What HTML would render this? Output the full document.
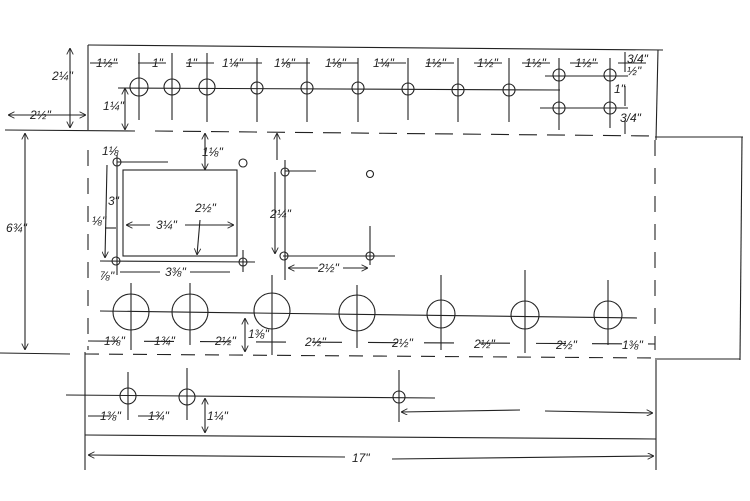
<!DOCTYPE html>
<html><head><style>
html,body{margin:0;padding:0;background:#fff;}
svg{display:block;}
text{font-family:"Liberation Sans",sans-serif;font-size:12px;fill:#222;font-style:italic;}
</style></head><body>
<svg width="750" height="501" viewBox="0 0 750 501" xmlns="http://www.w3.org/2000/svg">
<defs>
<marker id="a" viewBox="0 0 10 10" refX="10" refY="5" markerWidth="6" markerHeight="6" orient="auto-start-reverse"><path d="M0,0 L10,5 L0,10" fill="none" stroke="#222" stroke-width="1.3"/></marker>
</defs>
<g stroke="#222" stroke-width="1.1" fill="none">
<!-- top box -->
<line x1="88" y1="45" x2="663" y2="50"/>
<line x1="88" y1="45" x2="88" y2="130"/>
<line x1="658" y1="50" x2="656" y2="140"/>
<line x1="5" y1="130" x2="135" y2="131"/>
<line x1="155" y1="131" x2="655" y2="136" stroke-dasharray="18,10"/>
<!-- left outline -->
<line x1="0" y1="353" x2="70" y2="354"/>
<!-- right outline -->
<line x1="655" y1="137" x2="743" y2="137"/>
<line x1="742" y1="137" x2="740" y2="360"/>
<line x1="655" y1="359" x2="740" y2="359"/>
<!-- dashed verticals -->
<line x1="88" y1="150" x2="88" y2="350" stroke-dasharray="16,12"/>
<line x1="655" y1="140" x2="655" y2="350" stroke-dasharray="16,12"/>
<line x1="85" y1="354" x2="655" y2="358" stroke-dasharray="14,10"/>
<!-- 2 1/4 and 2 1/2 and 6 3/4 dims -->
<line x1="70" y1="48" x2="70" y2="128" marker-start="url(#a)" marker-end="url(#a)"/>
<line x1="8" y1="115" x2="86" y2="115" marker-start="url(#a)" marker-end="url(#a)"/>
<line x1="25" y1="133" x2="25" y2="350" marker-start="url(#a)" marker-end="url(#a)"/>
<!-- top row -->
<line x1="118" y1="88" x2="560" y2="90"/>
<circle cx="139" cy="87" r="9"/><circle cx="172" cy="87" r="8"/><circle cx="207" cy="87" r="8"/>
<circle cx="257" cy="88" r="6"/><circle cx="307" cy="88" r="6"/><circle cx="358" cy="88" r="6"/>
<circle cx="408" cy="89" r="6"/><circle cx="458" cy="90" r="6"/><circle cx="509" cy="90" r="6"/>
<circle cx="559" cy="75" r="6"/><circle cx="610" cy="75" r="6"/>
<circle cx="559" cy="108" r="6"/><circle cx="610" cy="108" r="6"/>
<line x1="545" y1="76" x2="628" y2="76"/><line x1="540" y1="108" x2="628" y2="108"/>
<line x1="139" y1="53" x2="139" y2="120"/><line x1="172" y1="53" x2="172" y2="120"/><line x1="207" y1="53" x2="207" y2="122"/>
<line x1="257" y1="58" x2="257" y2="122"/><line x1="307" y1="58" x2="307" y2="122"/><line x1="358" y1="58" x2="358" y2="122"/>
<line x1="408" y1="58" x2="408" y2="120"/><line x1="458" y1="58" x2="458" y2="122"/><line x1="509" y1="58" x2="509" y2="122"/>
<line x1="559" y1="58" x2="559" y2="130"/><line x1="610" y1="58" x2="610" y2="128"/>
<line x1="90" y1="63" x2="650" y2="63" stroke-dasharray="28,20"/>
<line x1="125" y1="88" x2="125" y2="130" marker-start="url(#a)" marker-end="url(#a)"/>
<line x1="625" y1="52" x2="625" y2="134" stroke-dasharray="20,14"/>
<!-- middle holes -->
<rect x="123" y="170" width="114" height="86"/>
<circle cx="117" cy="162" r="4"/><circle cx="243" cy="163" r="4"/><circle cx="116" cy="261" r="4"/><circle cx="243" cy="262" r="4"/>
<circle cx="285" cy="172" r="4"/><circle cx="370" cy="174" r="3.5"/><circle cx="284" cy="256" r="4"/><circle cx="370" cy="256" r="4"/>
<line x1="117" y1="155" x2="117" y2="275"/><line x1="117" y1="162" x2="168" y2="162"/>
<line x1="100" y1="261" x2="255" y2="262"/><line x1="243" y1="250" x2="243" y2="272"/>
<line x1="285" y1="160" x2="285" y2="280"/><line x1="285" y1="171" x2="316" y2="171"/>
<line x1="283" y1="256" x2="395" y2="256"/><line x1="370" y1="226" x2="370" y2="265"/>
<line x1="205" y1="133" x2="205" y2="170" marker-start="url(#a)" marker-end="url(#a)"/>
<line x1="200" y1="220" x2="197" y2="255" marker-end="url(#a)"/>
<line x1="126" y1="225" x2="150" y2="225" marker-start="url(#a)"/><line x1="185" y1="225" x2="234" y2="225" marker-end="url(#a)"/>
<line x1="105" y1="228" x2="116" y2="228"/>
<line x1="107" y1="165" x2="105" y2="258" marker-end="url(#a)"/>
<line x1="275" y1="172" x2="275" y2="254" marker-end="url(#a)"/>
<line x1="120" y1="272" x2="240" y2="272" stroke-dasharray="40,30"/>
<line x1="288" y1="268" x2="368" y2="268" marker-start="url(#a)" marker-end="url(#a)" stroke-dasharray="30,25"/>
<line x1="277" y1="133" x2="277" y2="160" marker-start="url(#a)"/>
<!-- big circles -->
<line x1="100" y1="311" x2="637" y2="318"/>
<ellipse cx="131" cy="312" rx="18" ry="18"/><ellipse cx="190" cy="312" rx="18" ry="18"/><ellipse cx="272" cy="311" rx="18" ry="18"/><ellipse cx="357" cy="313" rx="18" ry="18"/>
<ellipse cx="441" cy="314" rx="14" ry="14"/><ellipse cx="525" cy="315" rx="14" ry="14"/><ellipse cx="608" cy="315" rx="14" ry="14"/>
<line x1="131" y1="283" x2="131" y2="350"/><line x1="190" y1="283" x2="190" y2="345"/><line x1="272" y1="275" x2="272" y2="355"/><line x1="357" y1="285" x2="357" y2="348"/>
<line x1="441" y1="275" x2="441" y2="350"/><line x1="525" y1="270" x2="525" y2="353"/><line x1="608" y1="280" x2="608" y2="345"/>
<line x1="88" y1="341" x2="655" y2="344" stroke-dasharray="30,26"/>
<line x1="245" y1="318" x2="245" y2="352" marker-start="url(#a)" marker-end="url(#a)"/>
<!-- bottom row -->
<line x1="66" y1="395" x2="435" y2="398"/>
<circle cx="128" cy="396" r="8"/><circle cx="187" cy="397" r="8"/><circle cx="399" cy="397" r="6"/>
<line x1="128" y1="372" x2="128" y2="420"/><line x1="187" y1="368" x2="187" y2="420"/><line x1="399" y1="370" x2="399" y2="422"/>
<line x1="85" y1="352" x2="85" y2="470"/>
<line x1="88" y1="416" x2="183" y2="416" stroke-dasharray="22,28"/>
<line x1="205" y1="398" x2="205" y2="433" marker-start="url(#a)" marker-end="url(#a)"/>
<line x1="401" y1="412" x2="520" y2="410" marker-start="url(#a)"/><line x1="545" y1="411" x2="653" y2="413" marker-end="url(#a)"/>
<line x1="85" y1="435" x2="656" y2="439"/>
<line x1="656" y1="360" x2="656" y2="470"/>
<line x1="88" y1="455" x2="345" y2="457" marker-start="url(#a)"/><line x1="392" y1="459" x2="654" y2="456" marker-end="url(#a)"/>
</g>
<g>
<text x="96" y="67">1½"</text><text x="152" y="67">1"</text><text x="186" y="67">1"</text><text x="222" y="67">1¼"</text>
<text x="274" y="67">1⅛"</text><text x="325" y="67">1⅛"</text><text x="373" y="67">1¼"</text><text x="425" y="67">1½"</text>
<text x="477" y="67">1½"</text><text x="525" y="67">1½"</text><text x="575" y="67">1½"</text>
<text x="627" y="63" font-size="10">3/4"</text><text x="627" y="75" font-size="10">½"</text>
<text x="614" y="93" font-size="10">1"</text><text x="620" y="122" font-size="10">3/4"</text>
<text x="52" y="80">2¼"</text><text x="30" y="119">2½"</text>
<text x="6" y="232" font-size="15">6¾"</text><text x="103" y="110">1¼"</text>
<text x="102" y="155" font-size="10">1⅛</text><text x="108" y="205">3"</text><text x="92" y="225" font-size="10">⅛"</text>
<text x="202" y="156">1⅛"</text><text x="195" y="212">2½"</text><text x="156" y="229">3¼"</text>
<text x="270" y="218">2¼"</text><text x="318" y="272">2½"</text>
<text x="100" y="280" font-size="10">⅞"</text><text x="165" y="276">3⅜"</text>
<text x="104" y="345">1⅜"</text><text x="154" y="345">1¾"</text><text x="215" y="345">2½"</text><text x="248" y="338" font-size="10">1⅜"</text>
<text x="305" y="346">2½"</text><text x="392" y="347">2½"</text><text x="474" y="348">2½"</text><text x="556" y="349">2½"</text><text x="622" y="349">1⅜"</text>
<text x="100" y="420">1⅜"</text><text x="148" y="420">1¾"</text><text x="207" y="420">1¼"</text>
<text x="352" y="462" font-size="14">17"</text>
</g>
</svg>
</body></html>
